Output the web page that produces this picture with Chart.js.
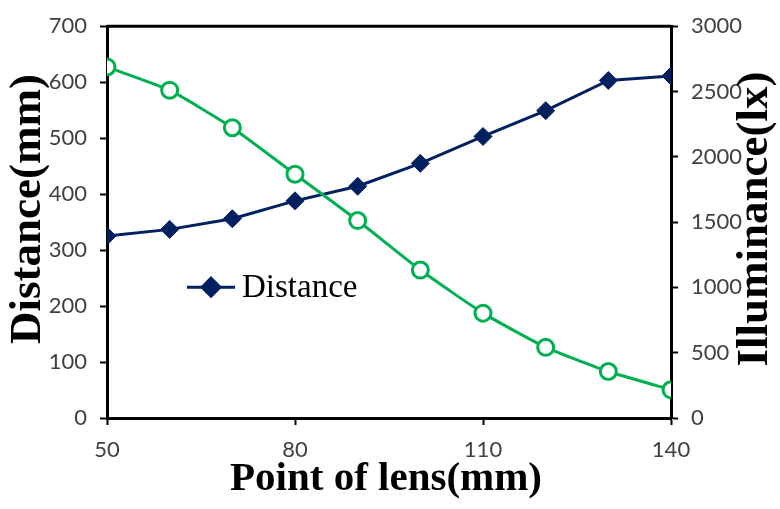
<!DOCTYPE html>
<html>
<head>
<meta charset="utf-8">
<script src="https://cdn.jsdelivr.net/npm/chart.js@4"></script>
<style>
	html, body { margin: 0; padding: 0; background: #fff; }
	#wrap { width: 780px; height: 509px; }
</style>
</head>
<body>
<div id="wrap"><canvas id="chart" width="780" height="509"></canvas></div>
<script>
// Values.
const lensPoints = [ 50, 60, 70, 80, 90, 100, 110, 120, 130, 140 ];
const distance = [ 325, 337, 356, 388, 414, 455, 503, 549, 603, 611 ];
const illuminance = [ 2688, 2510, 2223, 1867, 1512, 1133, 803, 541, 356, 216 ];

const xTitle = 'Point of lens(mm)';
const yLeftTitle = 'Distance(mm)';
const yRightTitle = 'Illuminance(lx)';

const NAVY = '#002060';
const GREEN = '#00B050';
const TICK_GREY = '#404040';
const SERIF = '"Liberation Serif", "Times New Roman", serif';

Chart.defaults.font.family = 'Lato, "Open Sans", sans-serif';
Chart.defaults.font.size = 22;
Chart.defaults.color = TICK_GREY;

// Plot frame, rotated axis titles (both read bottom-to-top) and the inline legend.
const decorations = {
	id: 'decorations',
	beforeDatasetsDraw( chart ) {
		const { ctx, chartArea: a } = chart;
		ctx.save();
		ctx.strokeStyle = '#000';
		ctx.lineWidth = 3;
		ctx.beginPath();
		ctx.moveTo( a.left, a.top );
		ctx.lineTo( a.right, a.top );
		ctx.stroke();
		ctx.restore();
	},
	afterDraw( chart ) {
		const { ctx, chartArea: a } = chart;
		ctx.save();
		ctx.fillStyle = '#000';
		ctx.textAlign = 'center';
		ctx.textBaseline = 'middle';

		ctx.font = 'bold 41px ' + SERIF;
		ctx.fillText( xTitle, ( a.left + a.right ) / 2 - 3, 479 );

		ctx.font = 'bold 45px ' + SERIF;
		ctx.save();
		ctx.translate( 28, 209 );
		ctx.rotate( -Math.PI / 2 );
		ctx.fillText( yLeftTitle, 0, 0 );
		ctx.restore();

		ctx.save();
		ctx.translate( 755, 219 );
		ctx.rotate( -Math.PI / 2 );
		ctx.fillText( yRightTitle, 0, 0 );
		ctx.restore();

		// Legend: only the first series, as in the reference.
		const ds = chart.data.datasets[ 0 ];
		const lx = a.left + 80, ly = a.top + 261;
		ctx.strokeStyle = ds.borderColor;
		ctx.lineWidth = 3;
		ctx.beginPath();
		ctx.moveTo( lx, ly );
		ctx.lineTo( lx + 48, ly );
		ctx.stroke();
		ctx.fillStyle = ds.backgroundColor;
		Chart.helpers.drawPoint( ctx, { pointStyle: ds.pointStyle, radius: ds.pointRadius, borderWidth: 1 }, lx + 24, ly );
		ctx.fillStyle = '#000';
		ctx.textAlign = 'left';
		ctx.textBaseline = 'alphabetic';
		ctx.font = '33px ' + SERIF;
		ctx.fillText( ds.label, lx + 55, ly + 10 );
		ctx.restore();
	},
};

const tickGrid = { drawOnChartArea: false, drawTicks: true, tickLength: 7, tickWidth: 2, tickColor: '#000' };
const axisBorder = { display: true, color: '#000', width: 3 };
const plain = ( v ) => String( v );

new Chart( document.getElementById( 'chart' ), {
	type: 'line',
	data: {
		datasets: [
			{
				label: 'Distance',
				data: lensPoints.map( ( x, i ) => ( { x, y: distance[ i ] } ) ),
				yAxisID: 'y',
				borderColor: NAVY,
				backgroundColor: NAVY,
				borderWidth: 3,
				pointStyle: 'rectRot',
				pointRadius: 9,
				pointBorderWidth: 1,
				tension: 0,
				order: 2,
			},
			{
				label: 'Illuminance',
				data: lensPoints.map( ( x, i ) => ( { x, y: illuminance[ i ] } ) ),
				yAxisID: 'y1',
				borderColor: GREEN,
				backgroundColor: '#fff',
				borderWidth: 3,
				pointStyle: 'circle',
				pointRadius: 8,
				pointBorderWidth: 3,
				tension: 0.15,
				order: 1,
			},
		],
	},
	options: {
		responsive: false,
		animation: false,
		layout: { padding: { top: 24, left: 0, right: 0, bottom: 0 } },
		plugins: { legend: { display: false }, tooltip: { enabled: false } },
		scales: {
			x: {
				type: 'linear',
				min: 50,
				max: 140,
				grid: tickGrid,
				border: axisBorder,
				ticks: { stepSize: 30, padding: 12, maxRotation: 0, callback: plain },
				afterFit( s ) { s.height = 91; },
			},
			y: {
				position: 'left',
				min: 0,
				max: 700,
				grid: tickGrid,
				border: axisBorder,
				ticks: { stepSize: 100, padding: 13, callback: plain },
				afterFit( s ) { s.width = 107; },
			},
			y1: {
				position: 'right',
				min: 0,
				max: 3000,
				grid: tickGrid,
				border: axisBorder,
				ticks: { stepSize: 500, padding: 13, callback: plain },
				afterFit( s ) { s.width = 109; },
			},
		},
	},
	plugins: [ decorations ],
} );
</script>
</body>
</html>
